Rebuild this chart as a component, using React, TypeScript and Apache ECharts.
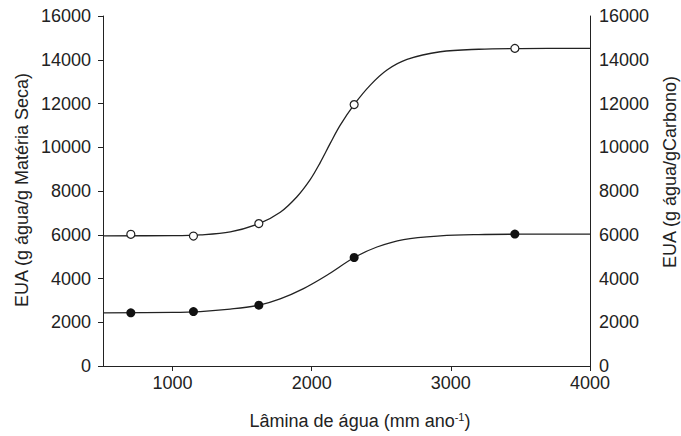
import React, { useEffect, useRef } from "react";
import * as echarts from "echarts";

// Measured points
const pointX = [700, 1150, 1620, 2305, 3460];
const openPointY = [6020, 5940, 6510, 11950, 14520];
const filledPointY = [2430, 2490, 2780, 4960, 6030];

// Fitted curves, points read along the drawn lines of the picture
const openCurveX = [500, 1000, 1200, 1415, 1618, 1774, 1894, 1989, 2061, 2133, 2205, 2306, 2421, 2541, 2685, 2924, 3200, 3500, 4000];
const openCurveY = [5950, 5960, 5995, 6130, 6500, 7030, 7740, 8520, 9300, 10175, 11010, 11960, 12840, 13530, 14015, 14365, 14480, 14510, 14520];
const filledCurveX = [500, 1000, 1200, 1414, 1617, 1773, 1941, 2109, 2306, 2469, 2660, 2924, 3200, 3500, 4000];
const filledCurveY = [2430, 2450, 2490, 2600, 2775, 3070, 3540, 4150, 4960, 5440, 5780, 5950, 6010, 6025, 6030];

const xTicks = [1000, 2000, 3000, 4000];

const FONT = "Liberation Sans, Arial, sans-serif";
const INK = "#222";

export default function App() {
  const ref = useRef<HTMLDivElement>(null);
  useEffect(() => {
    if (!ref.current) return;
    const chart = echarts.init(ref.current, null, { renderer: "svg" });
    const zip = (xs: number[], ys: number[]) => xs.map((x, i) => [x, ys[i]]);
    const plain = (v: number) => String(v);
    chart.setOption({
      animation: false,
      backgroundColor: "#fff",
      grid: { left: 103, right: 91, top: 16, bottom: 70, containLabel: false },
      xAxis: {
        type: "value",
        min: 500,
        max: 4000,
        interval: 500,
        axisLine: { show: true, lineStyle: { color: INK, width: 1 } },
        axisTick: { show: true, length: 5, lineStyle: { color: INK }, customValues: xTicks },
        axisLabel: {
          color: INK,
          fontSize: 18,
          lineHeight: 14,
          fontFamily: FONT,
          margin: 10,
          customValues: xTicks,
          formatter: plain,
        },
        splitLine: { show: false },
      },
      yAxis: [
        {
          type: "value",
          min: 0,
          max: 16000,
          interval: 2000,
          position: "left",
          axisLine: { show: true, lineStyle: { color: INK, width: 1 } },
          axisTick: { show: true, length: 5, lineStyle: { color: INK } },
          axisLabel: { color: INK, fontSize: 18, lineHeight: 14, fontFamily: FONT, margin: 12, formatter: plain },
          splitLine: { show: false },
        },
        {
          type: "value",
          min: 0,
          max: 16000,
          interval: 2000,
          position: "right",
          axisLine: { show: true, lineStyle: { color: INK, width: 1 } },
          axisTick: { show: false },
          axisLabel: { color: INK, fontSize: 18, lineHeight: 14, fontFamily: FONT, margin: 9, formatter: plain },
          splitLine: { show: false },
        },
      ],
      graphic: [
        {
          type: "text",
          x: 360,
          y: 421,
          style: {
            text: "{a|Lâmina de água (mm ano}{s|-1}{a|)}",
            align: "center",
            verticalAlign: "middle",
            rich: {
              a: { fontSize: 18, fontFamily: FONT, fill: INK },
              s: { fontSize: 11, fontFamily: FONT, fill: INK, verticalAlign: "top", padding: [0, 0, 8, 0] },
            },
          },
        },
        {
          type: "text",
          x: 22,
          y: 190,
          rotation: Math.PI / 2,
          style: {
            text: "EUA (g água/g Matéria Seca)",
            align: "center",
            verticalAlign: "middle",
            fontSize: 18,
            fontFamily: FONT,
            fill: INK,
          },
        },
        {
          type: "text",
          x: 670,
          y: 172,
          rotation: Math.PI / 2,
          style: {
            text: "EUA (g água/gCarbono)",
            align: "center",
            verticalAlign: "middle",
            fontSize: 18,
            fontFamily: FONT,
            fill: INK,
          },
        },
      ],
      series: [
        {
          type: "line",
          data: zip(openCurveX, openCurveY),
          smooth: 0.35,
          showSymbol: false,
          lineStyle: { color: INK, width: 1.3 },
          z: 2,
        },
        {
          type: "line",
          yAxisIndex: 1,
          data: zip(filledCurveX, filledCurveY),
          smooth: 0.35,
          showSymbol: false,
          lineStyle: { color: INK, width: 1.3 },
          z: 2,
        },
        {
          type: "scatter",
          data: zip(pointX, openPointY),
          symbol: "circle",
          symbolSize: 8,
          itemStyle: { color: "#fff", borderColor: INK, borderWidth: 1.2, opacity: 1 },
          z: 5,
        },
        {
          type: "scatter",
          yAxisIndex: 1,
          data: zip(pointX, filledPointY),
          symbol: "circle",
          symbolSize: 9,
          itemStyle: { color: "#111", opacity: 1 },
          z: 5,
        },
      ],
    });
    return () => chart.dispose();
  }, []);
  return <div ref={ref} style={{ width: 681, height: 436, position: "absolute", left: 0, top: 0 }} />;
}
